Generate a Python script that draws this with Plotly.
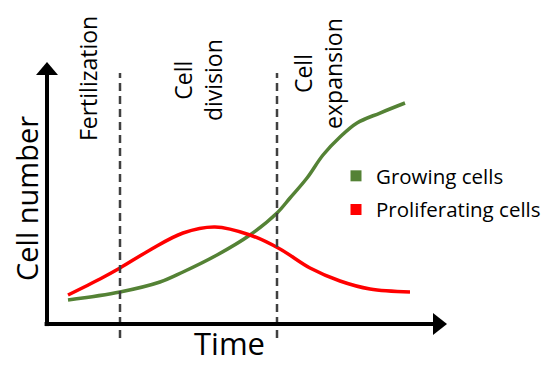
import plotly.graph_objects as go

# Curves (time units, cell-number units)
green_t = [0.525, 1.825, 2.825, 3.4, 4.25, 5.075, 5.75, 6.075, 6.5, 6.9, 7.325, 7.75, 8.325, 8.95]
green_y = [0.923, 1.231, 1.615, 2.0, 2.654, 3.423, 4.269, 4.846, 5.615, 6.5, 7.192, 7.731, 8.115, 8.5]
red_t = [0.525, 1.325, 1.825, 2.575, 3.4, 4.2, 5.075, 5.825, 6.575, 7.325, 8.075, 9.075]
red_y = [1.115, 1.731, 2.154, 2.846, 3.5, 3.731, 3.423, 2.885, 2.154, 1.654, 1.346, 1.231]

phase_bounds = [1.825, 5.75]
phase_labels = ["Fertilization", "Cell<br>division", "Cell<br>expansion"]
phase_label_t = [1.025, 3.775, 6.775]
phase_label_y = [9.42, 9.38, 9.62]
series_names = ["Growing cells", "Proliferating cells"]
series_colors = ["#548235", "#FF0000"]

FONT = "Open Sans"
W, H = 542, 360
OX, OY = 39, 316      # origin in figure pixels
SX, SY = 40, 26       # pixels per unit

fig = go.Figure()
fig.add_trace(go.Scatter(x=green_t, y=green_y, mode="lines",
                         line=dict(color=series_colors[0], width=3.5, shape="spline", smoothing=1.0), showlegend=False))
fig.add_trace(go.Scatter(x=red_t, y=red_y, mode="lines",
                         line=dict(color=series_colors[1], width=3.5, shape="spline", smoothing=1.0), showlegend=False))
for nm, c in zip(series_names, series_colors):
    fig.add_trace(go.Scatter(x=[None], y=[None], mode="markers", name=nm, legendgroup=nm,
                             marker=dict(symbol="square", size=11, color=c)))

shapes = []
for b in phase_bounds:
    shapes.append(dict(type="line", xref="x", yref="y", x0=b, x1=b, y0=-0.54, y1=9.65,
                       line=dict(color="#404040", width=2.5, dash="8px,5px")))
# axis lines
shapes.append(dict(type="line", xref="x", yref="y", x0=-0.06, x1=9.7, y0=0, y1=0, line=dict(color="black", width=4)))
shapes.append(dict(type="line", xref="x", yref="y", x0=0, x1=0, y0=-0.08, y1=9.62, line=dict(color="black", width=4)))
# arrowheads
shapes.append(dict(type="path", xref="x", yref="y", path="M 9.65 -0.42 L 10 0 L 9.65 0.42 Z",
                   fillcolor="black", line=dict(width=0)))
shapes.append(dict(type="path", xref="x", yref="y", path="M -0.275 9.58 L 0 10.08 L 0.275 9.58 Z",
                   fillcolor="black", line=dict(width=0)))

ann = []
for txt, t, y in zip(phase_labels, phase_label_t, phase_label_y):
    ann.append(dict(text=txt, x=t, y=y, xref="x", yref="y", showarrow=False, textangle=-90,
                    font=dict(family=FONT, size=23, color="black"), align="center"))
ann.append(dict(text="Cell number", x=-0.5, y=4.81, xref="x", yref="y", showarrow=False, textangle=-90,
                font=dict(family=FONT, size=29, color="black")))
ann.append(dict(text="Time", x=4.55, y=-0.73, xref="x", yref="y", showarrow=False,
                font=dict(family=FONT, size=31, color="black")))

fig.update_layout(
    width=W, height=H, margin=dict(l=0, r=0, t=0, b=0),
    paper_bgcolor="white", plot_bgcolor="white",
    xaxis=dict(range=[-OX / SX, (W - OX) / SX], visible=False, fixedrange=True),
    yaxis=dict(range=[(OY - H) / SY, OY / SY], visible=False, fixedrange=True),
    shapes=shapes, annotations=ann,
    legend=dict(x=328 / W, y=1 - 148 / H, xanchor="left", yanchor="top",
                font=dict(family=FONT, size=20.5, color="black"),
                bgcolor="rgba(0,0,0,0)", traceorder="grouped", tracegroupgap=4, itemwidth=30),
    showlegend=True,
)
fig.write_html("out.html")
